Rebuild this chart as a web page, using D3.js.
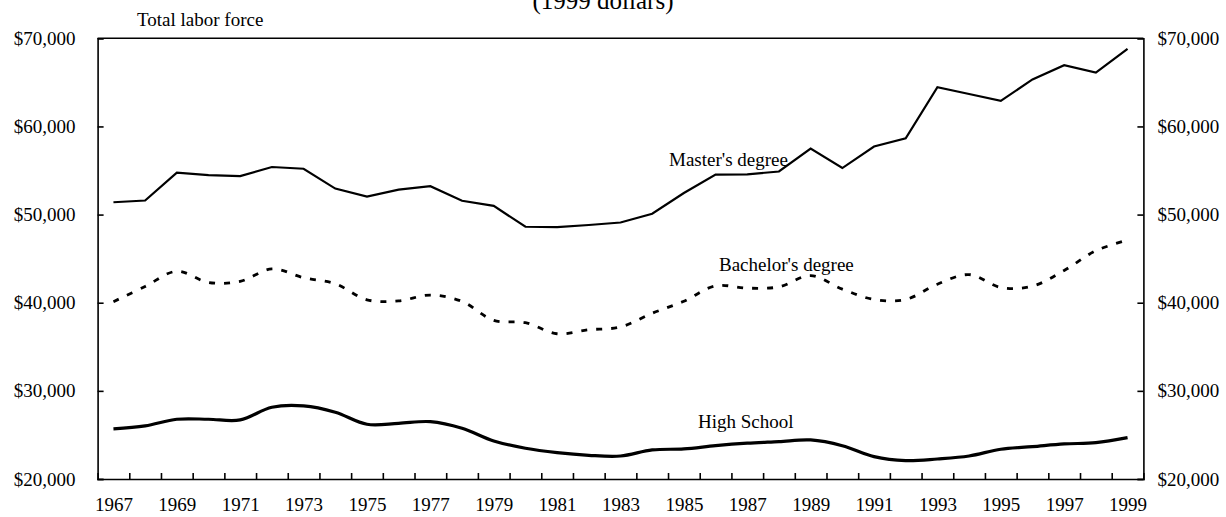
<!DOCTYPE html>
<html>
<head>
<meta charset="utf-8">
<script src="https://cdn.jsdelivr.net/npm/d3@7"></script>
<style>
  body { margin: 0; background: #fff; }
  text { font-family: "Liberation Serif", "Times New Roman", serif; fill: #000; }
  .axis path, .axis line { stroke: #000; stroke-width: 1.6; }
  .axis text { font-size: 19px; }
</style>
</head>
<body>
<div id="chart"></div>
<script>
"use strict";

var width = 1226;
var height = 517;
var plotLeft = 97.6, plotRight = 1143.4, plotTop = 38.3, plotBottom = 479;

var years = d3.range(1967, 2000);
var masters = [51400, 51600, 54750, 54470, 54360, 55400, 55200, 52950, 52030, 52830, 53220, 51570,
               50990, 48620, 48580, 48820, 49100, 50100, 52450, 54540, 54570, 54890, 57480, 55280,
               57720, 58650, 64450, 63680, 62900, 65330, 66950, 66100, 68800];
var bachelors = [40120, 41840, 43570, 42300, 42420, 43840, 42840, 42150, 40330, 40210, 40870, 40150,
                 38000, 37740, 36480, 36930, 37250, 38810, 40170, 41920, 41650, 41800, 43080, 41540,
                 40370, 40370, 42100, 43190, 41730, 41880, 43660, 45900, 47100];
var highSchool = [25680, 26020, 26780, 26780, 26700, 28140, 28290, 27570, 26210, 26320, 26510, 25760,
                  24320, 23490, 22990, 22690, 22610, 23300, 23410, 23780, 24060, 24240, 24430, 23780,
                  22540, 22080, 22270, 22610, 23380, 23670, 23980, 24120, 24690];
var yTicks = [20000, 30000, 40000, 50000, 60000, 70000];
var yearLabels = d3.range(1967, 2000, 2);

var svg = d3.select("#chart")
  .append("svg")
  .attr("width", width)
  .attr("height", height);

var xScale = d3.scaleLinear()
  .domain([1966.5, 1999.5])
  .range([plotLeft, plotRight]);

var yScale = d3.scaleLinear()
  .domain([20000, 70000])
  .range([plotBottom, plotTop]);

var money = d3.format("$,.0f");

// frame top
svg.append("line")
  .attr("x1", plotLeft).attr("x2", plotRight)
  .attr("y1", plotTop).attr("y2", plotTop)
  .attr("stroke", "#000").attr("stroke-width", 1.6);

// left axis
svg.append("g")
  .attr("class", "axis")
  .attr("transform", "translate(" + plotLeft + ",0)")
  .call(d3.axisLeft(yScale).tickValues(yTicks).tickSize(-6).tickPadding(22).tickFormat(money));

// right axis
svg.append("g")
  .attr("class", "axis")
  .attr("transform", "translate(" + plotRight + ",0)")
  .call(d3.axisRight(yScale).tickValues(yTicks).tickSize(-6).tickPadding(14).tickFormat(money));

// bottom axis: ticks between years
svg.append("g")
  .attr("class", "axis")
  .attr("transform", "translate(0," + plotBottom + ")")
  .call(d3.axisBottom(xScale).tickValues(d3.range(1967.5, 1999, 1)).tickSize(-6).tickFormat(""));

// bottom labels on odd years
svg.append("g")
  .attr("class", "axis")
  .attr("transform", "translate(0," + plotBottom + ")")
  .call(d3.axisBottom(xScale).tickValues(yearLabels).tickSize(0).tickPadding(19).tickFormat(d3.format("d")))
  .call(function(g) { g.select(".domain").remove(); });

var straight = d3.line()
  .x(function(d, i) { return xScale(years[i]); })
  .y(function(d) { return yScale(d); });

var smooth = d3.line()
  .x(function(d, i) { return xScale(years[i]); })
  .y(function(d) { return yScale(d); })
  .curve(d3.curveCatmullRom.alpha(0.5));

svg.append("path")
  .datum(masters)
  .attr("d", straight)
  .attr("fill", "none")
  .attr("stroke", "#000")
  .attr("stroke-width", 2.2);

svg.append("path")
  .datum(bachelors)
  .attr("d", smooth)
  .attr("fill", "none")
  .attr("stroke", "#000")
  .attr("stroke-width", 2.8)
  .attr("stroke-dasharray", "6,9");

svg.append("path")
  .datum(highSchool)
  .attr("d", smooth)
  .attr("fill", "none")
  .attr("stroke", "#000")
  .attr("stroke-width", 3.2);

// labels
svg.append("text")
  .attr("x", 603).attr("y", 9)
  .attr("text-anchor", "middle")
  .style("font-size", "25px")
  .text("(1999 dollars)");

svg.append("text")
  .attr("x", 137).attr("y", 26)
  .style("font-size", "19px")
  .text("Total labor force");

svg.append("text")
  .attr("x", 669).attr("y", 166)
  .style("font-size", "19px")
  .text("Master's degree");

svg.append("text")
  .attr("x", 719).attr("y", 271)
  .style("font-size", "19px")
  .text("Bachelor's degree");

svg.append("text")
  .attr("x", 698).attr("y", 428)
  .style("font-size", "19px")
  .text("High School");
</script>
</body>
</html>
